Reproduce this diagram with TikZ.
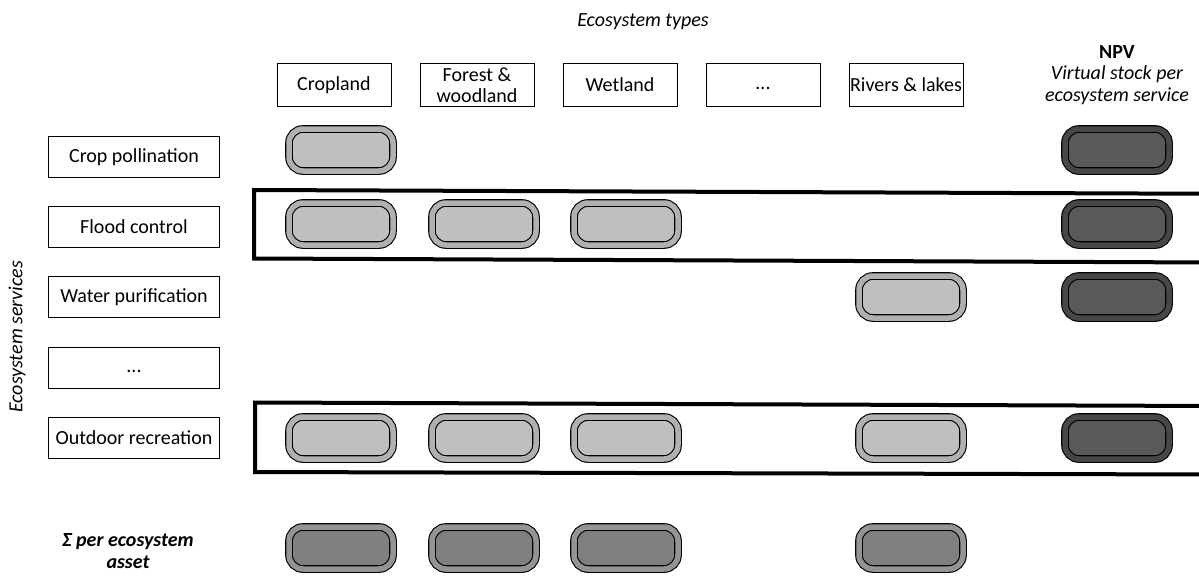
\documentclass[tikz,border=0pt]{standalone}
\usepackage{fontspec}
\setmainfont{Carlito}
\begin{document}
\begin{tikzpicture}[x=1pt,y=-1pt,
  every node/.style={font=\fontsize{20}{23}\selectfont, inner sep=0pt, align=center},
  colbox/.style={draw, line width=1pt, minimum width=114pt, minimum height=43pt},
  rowbox/.style={draw, line width=1pt, minimum width=171pt, minimum height=41pt},
  pill/.style={draw=black, line width=1.1pt, double distance=5.5pt, rounded corners=14pt,
    minimum width=104pt, minimum height=42pt},
  lightpill/.style={pill, double=gray!62, fill=gray!50},
  sumpill/.style={pill, double=gray!116!black, fill=gray!100!black},
  npvpill/.style={pill, double=black!72, fill=black!65},
  band/.style={line width=4pt, line join=miter}
]
\useasboundingbox (0,0) rectangle (1199,581);
\clip (0,0) rectangle (1199,581);

% headings
\node (types) at (643,22) {\itshape Ecosystem types};
\node (npv) at (1117,52) {\bfseries NPV};
\node (npvsub) at (1117,85) {\itshape Virtual stock per\\[-1pt]\itshape ecosystem service};
\node[rotate=90] (services) at (17,337) {\itshape Ecosystem services};
\node (sum) at (128,551) {\bfseries\itshape Σ per ecosystem\\[-1pt]\bfseries\itshape asset};

% ecosystem type columns
\node[colbox] (crop) at (334,85) {Cropland};
\node[colbox] (forest) at (477,85) {Forest \&\\[-2pt]woodland};
\node[colbox] (wet) at (620,85) {Wetland};
\node[colbox] (dots) at (763,85) {\vphantom{Ag}...};
\node[colbox] (rivers) at (906,85) {Rivers \& lakes};

% ecosystem service rows
\node[rowbox] (poll) at (134,157) {Crop pollination};
\node[rowbox] (flood) at (134,227) {Flood control};
\node[rowbox] (water) at (134,297) {Water purification};
\node[rowbox] (rdots) at (134,368) {\vphantom{Ag}...};
\node[rowbox] (rec) at (134,438) {Outdoor recreation};

% highlighted rows
\draw[band] (254,190) -- (1215,193.8) -- (1215,262.5) -- (254,258.5) -- cycle;
\draw[band] (255,402.5) -- (1215,406) -- (1215,474.5) -- (255,472) -- cycle;

% service values per ecosystem type
\node[lightpill] (p11) at (341,150) {};
\node[lightpill] (p21) at (341,224) {};
\node[lightpill] (p22) at (484,224) {};
\node[lightpill] (p23) at (626,224) {};
\node[lightpill] (p35) at (911,297) {};
\node[lightpill] (p51) at (341,438) {};
\node[lightpill] (p52) at (484,438) {};
\node[lightpill] (p53) at (626,438) {};
\node[lightpill] (p55) at (911,438) {};

% NPV per service
\node[npvpill] (n1) at (1117,150) {};
\node[npvpill] (n2) at (1117,224) {};
\node[npvpill] (n3) at (1117,297) {};
\node[npvpill] (n5) at (1117,438) {};

% totals per ecosystem asset
\node[sumpill] (s1) at (341,548) {};
\node[sumpill] (s2) at (484,548) {};
\node[sumpill] (s3) at (626,548) {};
\node[sumpill] (s5) at (911,548) {};
\end{tikzpicture}
\end{document}
